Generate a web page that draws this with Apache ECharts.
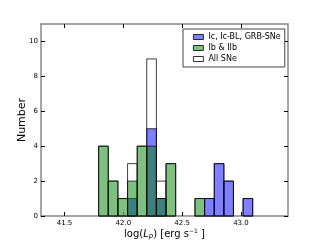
<!DOCTYPE html>
<html><head><meta charset="utf-8">
<script src="https://cdn.jsdelivr.net/npm/echarts@6/dist/echarts.min.js"></script>
<style>html,body{margin:0;padding:0;background:#fff}#c{width:320px;height:240px}</style>
</head><body><div id="c"></div>
<script>
var binEdges = [41.790, 41.872, 41.954, 42.036, 42.118, 42.199, 42.281, 42.363, 42.445, 42.527, 42.609, 42.691, 42.773, 42.855, 42.936, 43.018, 43.100];
var allSNe   = [4, 2, 1, 3, 4, 9, 2, 3, 0, 0, 1, 1, 3, 2, 0, 1];
var icSNe    = [0, 0, 0, 1, 0, 5, 1, 0, 0, 0, 0, 1, 3, 2, 0, 1];
var ibSNe    = [4, 2, 1, 2, 4, 4, 1, 3, 0, 0, 1, 0, 0, 0, 0, 0];
var xTicks = [41.5, 42.0, 42.5, 43.0];
var yTicks = [0, 2, 4, 6, 8, 10];
var seriesNames = ['Ic, Ic-BL, GRB-SNe', 'Ib & IIb', 'All SNe'];

function toData(counts){
  return counts.map(function(c,i){ return [binEdges[i], binEdges[i+1], c]; });
}
function render(fill){
  return function(params, api){
    var v = api.value(2);
    if(!v) return null;
    var p0 = api.coord([api.value(0), v]);
    var p1 = api.coord([api.value(1), 0]);
    return {type:'rect', shape:{x:p0[0], y:p0[1], width:p1[0]-p0[0], height:p1[1]-p0[1]},
      style:{fill:fill, stroke:'rgba(0,0,0,0.75)', lineWidth:1}};
  };
}
var F = 'DejaVu Sans';
var chart = echarts.init(document.getElementById('c'), null, {renderer:'canvas'});
var axisLineStyle = {color:'#888', width:1.5};
function xAx(pos, show){
  return {type:'value', position:pos, min:41.3, max:43.4,
    axisLine:{show:true, onZero:false, lineStyle:axisLineStyle},
    axisTick:{show:true, inside:true, length:4, customValues:xTicks, lineStyle:{color:'#000'}},
    axisLabel:{show:show, customValues:xTicks, fontFamily:F, fontSize:7, color:'#000', margin:4,
      formatter:function(v){return v.toFixed(1);}},
    splitLine:{show:false}};
}
function yAx(pos, show){
  return {type:'value', position:pos, min:0, max:11,
    axisLine:{show:true, onZero:false, lineStyle:axisLineStyle},
    axisTick:{show:true, inside:true, length:4, customValues:yTicks, lineStyle:{color:'#000'}},
    axisLabel:{show:show, customValues:yTicks, fontFamily:F, fontSize:7, color:'#000', margin:3},
    splitLine:{show:false}};
}
var xa = xAx('bottom', true);
xa.name = 'log({it|L}{sub|p}) [erg s{sup|−1} ]';
xa.nameLocation = 'middle';
xa.nameGap = 12;
xa.nameMoveOverlap = false;
xa.nameTextStyle = {fontFamily:F, fontSize:10, color:'#000', verticalAlign:'top', lineHeight:12,
  rich:{it:{fontFamily:F, fontStyle:'italic', fontSize:10, color:'#000', lineHeight:12},
        sub:{fontFamily:F, fontStyle:'italic', fontSize:7, color:'#000', lineHeight:7, verticalAlign:'bottom'},
        sup:{fontFamily:F, fontSize:6, color:'#000', lineHeight:6, verticalAlign:'top'}}};
var ya = yAx('left', true);
ya.name = 'Number';
ya.nameLocation = 'middle';
ya.nameGap = 13;
ya.nameMoveOverlap = false;
ya.nameTextStyle = {fontFamily:F, fontSize:11, color:'#000'};
var xb = xAx('top', false); xb.name='';
var yb = yAx('right', false);

chart.setOption({
  animation:false,
  grid:{left:41, right:32, top:24, bottom:24, outerBoundsMode:'none', containLabel:false},
  xAxis:[xa, xb],
  yAxis:[ya, yb],
  legend:{orient:'vertical', left:183, top:29, itemWidth:10, itemHeight:5, itemGap:3,
    padding:[4,4,4,10], backgroundColor:'#fff', borderColor:'#444', borderWidth:1, borderRadius:0,
    textStyle:{fontFamily:F, fontSize:8, color:'#000'},
    data:[
      {name:seriesNames[0], icon:'rect', itemStyle:{color:'rgb(127,127,255)', borderColor:'#000', borderWidth:0.8}},
      {name:seriesNames[1], icon:'rect', itemStyle:{color:'rgb(127,191,127)', borderColor:'#000', borderWidth:0.8}},
      {name:seriesNames[2], icon:'rect', itemStyle:{color:'#fff', borderColor:'#000', borderWidth:0.8}}
    ]},
  series:[
    {name:seriesNames[2], type:'custom', renderItem:render('rgba(255,255,255,0.5)'), data:toData(allSNe),
      encode:{x:[0,1], y:2}, itemStyle:{color:'#fff'}, z:1},
    {name:seriesNames[0], type:'custom', renderItem:render('rgba(0,0,255,0.5)'), data:toData(icSNe),
      encode:{x:[0,1], y:2}, itemStyle:{color:'rgb(127,127,255)'}, z:2},
    {name:seriesNames[1], type:'custom', renderItem:render('rgba(0,128,0,0.5)'), data:toData(ibSNe),
      encode:{x:[0,1], y:2}, itemStyle:{color:'rgb(127,191,127)'}, z:3}
  ]
});
</script></body></html>
